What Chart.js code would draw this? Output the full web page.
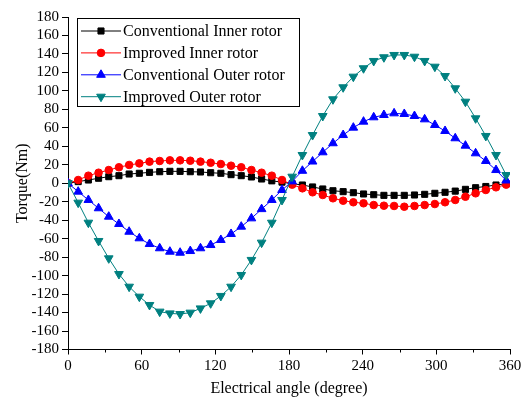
<!DOCTYPE html>
<html>
<head>
<meta charset="utf-8">
<title>Torque vs electrical angle</title>
<script src="https://cdn.jsdelivr.net/npm/chart.js@4.4.1/dist/chart.umd.min.js"></script>
<style>
    html, body { margin: 0; padding: 0; background: #fff; }
    #wrap { width: 528px; height: 398px; }
</style>
</head>
<body>
<div id="wrap"><canvas id="torqueChart" width="528" height="398"></canvas></div>
<script>
// Electrical angle (degree) of each sample
const angles = [0, 8.3, 16.6, 24.9, 33.2, 41.5, 49.8, 58.1, 66.4, 74.7, 83, 91.3, 99.6, 107.9,
    116.2, 124.5, 132.8, 141.1, 149.4, 157.7, 166, 174.3, 182.6, 190.9, 199.2, 207.5, 215.8,
    224.1, 232.4, 240.7, 249, 257.3, 265.6, 273.9, 282.2, 290.5, 298.8, 307.1, 315.4, 323.7,
    332, 340.3, 348.6, 356.9];

// Torque (Nm)
const convInner = [0, 1.8, 3.5, 5.4, 7.1, 8.2, 10, 10.8, 11.8, 12.5, 12.9, 12.9, 12.5, 12.2,
    11.4, 10.8, 9.3, 8.2, 6.8, 4.6, 2.6, 1.2, -0.5, -1.9, -4.0, -6.2, -8.1, -9.1, -10.2, -11.6,
    -12.4, -13.1, -13.1, -13.1, -12.7, -12, -10.9, -9.8, -8.5, -6.6, -4.8, -3.5, -1.9, -0.5];

const impInner = [0, 3.5, 8.2, 11.4, 14.3, 17.3, 19.8, 21.5, 23.4, 24.1, 24.8, 24.8, 24.4, 23.4,
    22.2, 20.8, 19, 17.3, 14.3, 11.4, 8.2, 3.5, -1.5, -5.5, -9.8, -12.7, -16.3, -18.9, -20.6,
    -21.7, -23.6, -24.3, -24.6, -25.4, -24.6, -23.6, -22.5, -20.6, -18.1, -14.6, -10.9, -7.3,
    -4.4, -1.5];

const convOuter = [0, -9.1, -18.1, -27.1, -36.2, -44.1, -52.5, -59.6, -65.8, -70.4, -74.1, -75.2,
    -73.4, -70.4, -66.9, -61.4, -54.9, -47, -38, -28, -18.1, -7.3, 2, 13.5, 23.5, 33.5, 43.3,
    52.2, 60.2, 66.7, 71.4, 73.9, 75.7, 75, 72.8, 69.2, 63.1, 56.6, 48.7, 40.7, 32.4, 24.1,
    14.3, 3];

const impOuter = [0, -21, -42.7, -62.5, -81.3, -98.3, -112, -122.8, -131.8, -139, -140.9, -141.6,
    -140.1, -135.5, -130, -122, -112, -99.3, -83, -64.3, -42.7, -18.1, 7.1, 30.6, 52.2, 72.8,
    90.9, 103.9, 115.4, 124.5, 132.4, 136.4, 138.9, 138.9, 137, 132.4, 126.2, 116.1, 102.8,
    88.3, 70.3, 51.2, 30.6, 8.9];

const seriesNames = ['Conventional Inner rotor', 'Improved Inner rotor', 'Conventional Outer rotor', 'Improved Outer rotor'];

const xTicks = [0, 60, 120, 180, 240, 300, 360];
const xMinorTicks = [30, 90, 150, 210, 270, 330];

const SERIF = "'Liberation Serif', 'Times New Roman', serif";

function toPoints(values) {
    return values.map((v, i) => ({ x: angles[i], y: v }));
}

function makeDataset(label, values, color, style, radius, rotation, order) {
    return {
        label: label,
        data: toPoints(values),
        borderColor: color,
        backgroundColor: color,
        borderWidth: 1,
        pointStyle: style,
        pointRadius: radius,
        pointRotation: rotation,
        pointBorderWidth: 1,
        pointBorderColor: color,
        pointBackgroundColor: color,
        tension: 0,
        order: order
    };
}

// Minor ticks on the x axis (every 30 degrees)
const minorTicks = {
    id: 'minorTicks',
    afterDraw(chart) {
        const ctx = chart.ctx;
        const xs = chart.scales.x;
        const y0 = chart.chartArea.bottom;
        ctx.save();
        ctx.strokeStyle = '#000';
        ctx.lineWidth = 1;
        ctx.beginPath();
        xMinorTicks.forEach(v => {
            const px = Math.round(xs.getPixelForValue(v)) + 0.5;
            ctx.moveTo(px, y0);
            ctx.lineTo(px, y0 + 3);
        });
        ctx.stroke();
        ctx.restore();
    }
};

// Legend box with line + marker samples, like the original figure
const lineLegend = {
    id: 'lineLegend',
    afterDraw(chart) {
        const ctx = chart.ctx;
        const box = { x: 77.5, y: 18.5, w: 222, h: 88 };
        ctx.save();
        ctx.fillStyle = '#fff';
        ctx.fillRect(box.x, box.y, box.w, box.h);
        ctx.strokeStyle = '#000';
        ctx.lineWidth = 1;
        ctx.strokeRect(box.x, box.y, box.w, box.h);

        ctx.font = '16px ' + SERIF;
        ctx.textBaseline = 'middle';
        chart.data.datasets.forEach((ds, i) => {
            const cy = 31 + i * 21.9;
            ctx.strokeStyle = ds.borderColor;
            ctx.lineWidth = 1;
            ctx.beginPath();
            ctx.moveTo(81, cy);
            ctx.lineTo(121, cy);
            ctx.stroke();

            ctx.fillStyle = ds.backgroundColor;
            ctx.strokeStyle = ds.borderColor;
            Chart.helpers.drawPoint(ctx, {
                pointStyle: ds.pointStyle,
                radius: ds.pointRadius,
                rotation: ds.pointRotation,
                borderWidth: 1
            }, 101, cy);

            ctx.fillStyle = '#000';
            ctx.fillText(ds.label, 123, cy + 1);
        });
        ctx.restore();
    }
};

document.addEventListener('DOMContentLoaded', () => {
    const ctx = document.getElementById('torqueChart').getContext('2d');
    new Chart(ctx, {
        type: 'line',
        data: {
            datasets: [
                makeDataset(seriesNames[0], convInner, '#000000', 'rect', 4.3, 0, 3),
                makeDataset(seriesNames[1], impInner, '#ff0000', 'circle', 3.8, 0, 2),
                makeDataset(seriesNames[2], convOuter, '#0000ff', 'triangle', 5, 0, 1),
                makeDataset(seriesNames[3], impOuter, '#008080', 'triangle', 5, 180, 0)
            ]
        },
        options: {
            responsive: false,
            animation: false,
            layout: {
                padding: { top: 17, right: 18, left: 0, bottom: 0 }
            },
            plugins: {
                legend: { display: false },
                tooltip: { enabled: false }
            },
            scales: {
                x: {
                    type: 'linear',
                    min: 0,
                    max: 360,
                    afterFit: scale => { scale.height = 48.5; },
                    afterBuildTicks: scale => { scale.ticks = xTicks.map(v => ({ value: v })); },
                    grid: {
                        drawOnChartArea: false,
                        drawTicks: true,
                        tickLength: 5,
                        tickColor: '#000'
                    },
                    border: { display: true, color: '#000', width: 1 },
                    ticks: {
                        color: '#000',
                        padding: 3,
                        maxRotation: 0,
                        autoSkip: false,
                        font: { family: SERIF, size: 15 }
                    },
                    title: {
                        display: true,
                        text: 'Electrical angle (degree)',
                        color: '#000',
                        font: { family: SERIF, size: 16 },
                        padding: { top: 0, bottom: 0 }
                    }
                },
                y: {
                    min: -180,
                    max: 180,
                    afterFit: scale => { scale.width = 68; },
                    grid: {
                        drawOnChartArea: false,
                        drawTicks: true,
                        tickLength: 6,
                        tickColor: '#000'
                    },
                    border: { display: true, color: '#000', width: 1 },
                    ticks: {
                        stepSize: 20,
                        autoSkip: false,
                        color: '#000',
                        padding: 3,
                        font: { family: SERIF, size: 15 }
                    },
                    title: {
                        display: true,
                        text: 'Torque(Nm)',
                        color: '#000',
                        font: { family: SERIF, size: 16 },
                        padding: { top: 13, bottom: 0 }
                    }
                }
            }
        },
        plugins: [minorTicks, lineLegend]
    });
});
</script>
</body>
</html>
